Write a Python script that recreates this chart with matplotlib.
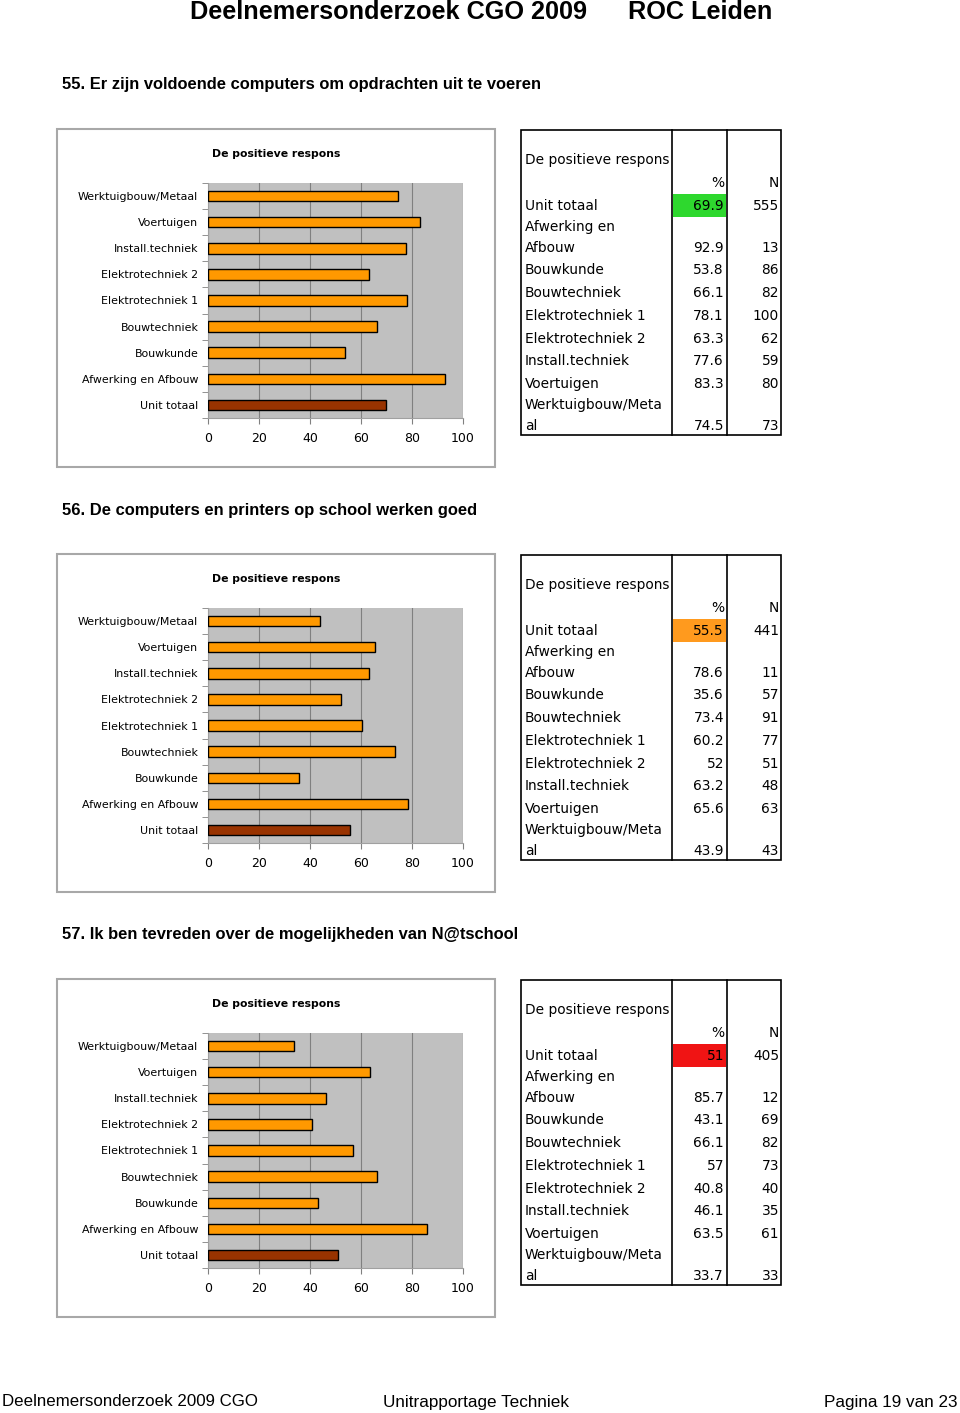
import matplotlib.pyplot as plt
from matplotlib.patches import Rectangle

W, H = 960, 1413

categories = ["Unit totaal", "Afwerking en Afbouw", "Bouwkunde", "Bouwtechniek",
              "Elektrotechniek 1", "Elektrotechniek 2", "Install.techniek",
              "Voertuigen", "Werktuigbouw/Metaal"]

# table rows (long names wrap like in the source)
table_names = ["Unit totaal", "Afwerking en\nAfbouw", "Bouwkunde", "Bouwtechniek",
               "Elektrotechniek 1", "Elektrotechniek 2", "Install.techniek",
               "Voertuigen", "Werktuigbouw/Meta\nal"]

titles = ["55. Er zijn voldoende computers om opdrachten uit te voeren",
          "56. De computers en printers op school werken goed",
          "57. Ik ben tevreden over de mogelijkheden van N@tschool"]

pct_55 = [69.9, 92.9, 53.8, 66.1, 78.1, 63.3, 77.6, 83.3, 74.5]
n_55 = [555, 13, 86, 82, 100, 62, 59, 80, 73]
pct_56 = [55.5, 78.6, 35.6, 73.4, 60.2, 52, 63.2, 65.6, 43.9]
n_56 = [441, 11, 57, 91, 77, 51, 48, 63, 43]
pct_57 = [51, 85.7, 43.1, 66.1, 57, 40.8, 46.1, 63.5, 33.7]
n_57 = [405, 12, 69, 82, 73, 40, 35, 61, 33]

highlight = ["#2ED82E", "#FF9A1E", "#F01414"]

ORANGE = "#FF9900"
DARK = "#993300"

fig = plt.figure(figsize=(W / 100, H / 100), dpi=100)
plt.rcParams['font.family'] = ['DejaVu Sans']

# overlay for lines / boxes in pixel coords
ov = fig.add_axes([0, 0, 1, 1])
ov.set_xlim(0, W)
ov.set_ylim(H, 0)
ov.axis("off")


def ax_rect(x0, y0, x1, y1):
    return [x0 / W, 1 - y1 / H, (x1 - x0) / W, (y1 - y0) / H]


narrow = ['Liberation Sans', 'DejaVu Sans']

ov.text(190, 12, "Deelnemersonderzoek CGO 2009", family=narrow, fontweight='bold',
        fontsize=18.2, ha='left', va='center')
ov.text(628, 12, "ROC Leiden", family=narrow, fontweight='bold',
        fontsize=18.2, ha='left', va='center')

ov.text(2, 1402, "Deelnemersonderzoek 2009 CGO", family=narrow, fontsize=12.2,
        ha='left', va='center')
ov.text(383, 1402, "Unitrapportage Techniek", family=narrow, fontsize=12.3,
        ha='left', va='center')
ov.text(957, 1402, "Pagina 19 van 23", family=narrow, fontsize=12.3,
        ha='right', va='center')

sections = [(pct_55, n_55), (pct_56, n_56), (pct_57, n_57)]

for k, (pct, nn) in enumerate(sections):
    off = 425 * k

    ov.text(62, 85 + off, titles[k], family=narrow, fontweight='bold', fontsize=11.9,
            ha='left', va='center')

    # chart frame
    ov.add_patch(Rectangle((57, 129 + off), 438, 338, fill=False,
                           edgecolor="#A8A8A8", lw=1.5))

    ax = fig.add_axes(ax_rect(208, 183 + off, 463, 418 + off))
    ax.set_facecolor("#C0C0C0")
    ypos = list(range(len(categories)))
    colors = [DARK] + [ORANGE] * (len(categories) - 1)
    ax.barh(ypos, pct, height=0.4, color=colors, edgecolor="black", lw=1, zorder=3)
    ax.set_xlim(0, 100)
    ax.set_ylim(-0.5, len(categories) - 0.5)
    ax.set_xticks([0, 20, 40, 60, 80, 100])
    ax.set_yticks(ypos)
    ax.set_yticklabels(categories, fontsize=7.9)
    ax.set_yticks([i - 0.5 for i in range(len(categories) + 1)], minor=True)
    ax.tick_params(axis='y', which='major', length=0, pad=7)
    ax.tick_params(axis='y', which='minor', length=4, color="#808080")
    ax.tick_params(axis='x', length=4, color="#808080", labelsize=9, pad=6)
    ax.grid(axis='x', color="#808080", lw=0.8, zorder=1)
    for s in ["top", "right"]:
        ax.spines[s].set_visible(False)
    for s in ["left", "bottom"]:
        ax.spines[s].set_color("#A0A0A0")
    ax.set_title("De positieve respons", fontsize=7.8, fontweight='bold', pad=19,
                 x=(276 - 208) / 255, ha='center')

    # table
    ov.add_patch(Rectangle((521, 130 + off), 260, 305, fill=False,
                           edgecolor="black", lw=1.2))
    ov.plot([672, 672], [130 + off, 435 + off], color="black", lw=1.2)
    ov.plot([727, 727], [130 + off, 435 + off], color="black", lw=1.2)
    ov.add_patch(Rectangle((673, 194 + off), 53, 23, facecolor=highlight[k],
                           edgecolor="none"))

    fs = 9.9
    ov.text(525, 160 + off, "De positieve respons", fontsize=fs, ha='left', va='center')
    ov.text(724, 183 + off, "%", fontsize=fs, ha='right', va='center')
    ov.text(779, 183 + off, "N", fontsize=fs, ha='right', va='center')

    row_y = [206, 248, 270, 293, 316, 339, 361, 384, 426]
    for name, p, n, y in zip(table_names, pct, nn, row_y):
        lines = name.split("\n")
        if len(lines) == 2:
            ov.text(525, y - 21 + off, lines[0], fontsize=fs, ha='left', va='center')
            ov.text(525, y + off, lines[1], fontsize=fs, ha='left', va='center')
        else:
            ov.text(525, y + off, name, fontsize=fs, ha='left', va='center')
        ov.text(724, y + off, f"{p:g}", fontsize=fs, ha='right', va='center')
        ov.text(779, y + off, str(n), fontsize=fs, ha='right', va='center')

fig.savefig("out.png", dpi=100)
